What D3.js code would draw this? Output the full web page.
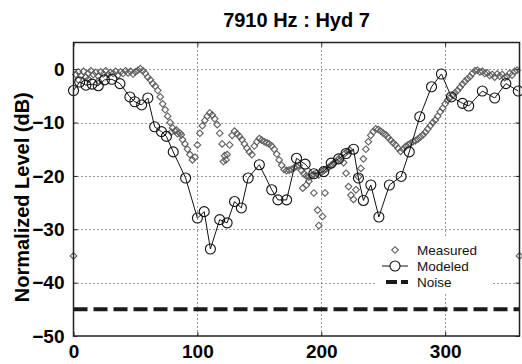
<!DOCTYPE html>
<html><head><meta charset="utf-8">
<script src="https://cdn.jsdelivr.net/npm/d3@7/dist/d3.min.js"></script>
<style>body{margin:0;background:#fff}svg{display:block}</style>
</head><body>
<svg id="c" width="522" height="364"></svg>
<script>
const title = "7910 Hz : Hyd 7";
const yLabel = "Normalized Level (dB)";
const xTicks = [0, 100, 200, 300];
const yTicks = [-50, -40, -30, -20, -10, 0];
const legendLabels = ["Measured", "Modeled", "Noise"];
const noiseLevel = -45;

// Measured [angle deg, level dB]
const measured = [[0,-35],[2,-1.0],[4,-0.5],[6,-1.2],[8,-0.4],[10,-1.5],[12,-0.8],[14,-0.3],[16,-1.0],[18,-0.6],[20,-1.3],[22,-0.5],[24,-0.9],[26,-0.3],[28,-1.0],[30,-0.6],[32,-0.8],[34,-0.4],[36,-1.1],[38,-0.5],[40,-0.8],[42,-0.3],[44,-0.7],[46,-0.4],[48,-0.9],[50,-0.5],[52,-0.2],[54,0.1],[56,-0.3],[58,-0.8],[60,-1.5],[62,-2.0],[64,-2.7],[66,-3.2],[68,-4.0],[70,-5.2],[72,-6.5],[74,-7.6],[76,-8.8],[78,-10.0],[80,-11.0],[82,-11.6],[84,-12.1],[86,-12.0],[88,-13.2],[90,-14.0],[92,-15.0],[94,-16.0],[96,-17.0],[98,-16.5],[100,-14.2],[102,-12.0],[104,-10.6],[106,-9.6],[108,-8.8],[110,-8.2],[112,-8.6],[114,-9.3],[116,-10.4],[118,-12.0],[120,-14.0],[122,-16.2],[124,-16.0],[126,-14.2],[128,-12.4],[130,-11.6],[132,-12.1],[134,-12.6],[136,-13.2],[138,-14.0],[140,-14.8],[142,-15.5],[144,-16.0],[146,-14.4],[148,-13.6],[150,-13.0],[152,-13.3],[154,-13.6],[156,-13.8],[158,-14.0],[160,-14.4],[162,-15.0],[164,-15.9],[166,-17.0],[168,-18.0],[170,-18.8],[172,-19.0],[174,-18.9],[176,-18.8],[178,-18.5],[180,-18.2],[182,-18.0],[184,-19.0],[186,-19.6],[188,-20.0],[190,-20.2],[192,-20.0],[194,-19.7],[196,-19.5],[198,-19.8],[200,-19.3],[202,-19.0],[204,-18.7],[206,-18.4],[208,-18.0],[210,-17.6],[212,-17.3],[214,-16.8],[216,-16.4],[218,-17.5],[220,-19.5],[222,-22.0],[224,-23.6],[226,-24.4],[228,-22.6],[230,-20.2],[232,-18.6],[234,-16.8],[236,-15.0],[238,-13.6],[240,-12.4],[242,-11.7],[244,-11.2],[246,-11.3],[248,-11.6],[250,-12.0],[252,-12.3],[254,-12.8],[256,-13.3],[258,-13.8],[260,-14.2],[262,-14.8],[264,-15.4],[266,-15.0],[268,-14.5],[270,-14.2],[272,-13.9],[274,-13.6],[276,-13.4],[278,-13.1],[280,-12.7],[282,-12.3],[284,-11.8],[286,-11.2],[288,-10.6],[290,-10.0],[292,-9.5],[294,-8.8],[296,-8.0],[298,-7.3],[300,-6.5],[302,-5.8],[304,-5.3],[306,-4.9],[308,-4.4],[310,-4.0],[312,-3.4],[314,-2.8],[316,-2.3],[318,-1.8],[320,-1.4],[322,-0.8],[324,-0.3],[326,-0.2],[328,-0.5],[330,-0.4],[332,-0.8],[334,-0.7],[336,-1.2],[338,-1.0],[340,-1.5],[342,-0.9],[344,-1.3],[346,-1.0],[348,-1.6],[350,-1.4],[352,-0.8],[354,-1.1],[356,-0.4],[358,-0.2],[360,-35]];
// Extra scattered measured samples
const measuredScatter = [[4,-2.0],[12,-1.9],[20,-2.2],[79,-11.8],[83,-11.4],[87,-12.3],[121,-17.3],[123,-17.0],[185,-22.3],[188,-21.7],[190,-21.0],[194,-23.2],[197,-26.4],[198,-29.3],[201,-27.6],[203,-23.2],[219,-15.8],[221,-15.4],[223,-15.2]];

// Modeled [angle deg, level dB]
const modeled = [[0,-4.0],[5,-2.4],[10,-3.0],[15,-2.8],[20,-3.1],[25,-2.0],[31,-1.9],[37.5,-2.7],[45.5,-5.2],[49.5,-6.1],[55,-6.7],[60,-5.4],[65.5,-10.8],[71,-11.7],[75,-12.6],[80.5,-15.5],[90.5,-20.4],[100,-27.9],[105.5,-26.7],[110.5,-33.7],[118,-28.2],[124,-28.8],[130,-24.8],[135.5,-26.0],[141,-20.4],[150,-17.9],[160,-22.6],[165,-24.5],[172,-24.5],[180,-16.7],[187,-17.8],[194,-19.6],[202,-19.2],[208,-17.6],[214,-16.8],[220,-15.8],[226,-15.0],[230,-20.4],[234,-24.6],[240,-21.7],[246.5,-27.7],[255,-21.7],[264.5,-20.1],[271,-15.5],[279.5,-8.9],[289,-3.3],[297,-0.9],[305,-5.2],[314,-6.4],[319,-6.9],[330,-4.1],[340,-5.4],[349,-2.7],[359,-4.1]];

const svg = d3.select("#c");
const L = 73.5, R = 519.5, T = 42.5, B = 336;
const x = d3.scaleLinear().domain([0, 360]).range([L, R]);
const y = d3.scaleLinear().domain([-50, 5]).range([B, T]);
const font = "Arial, 'Liberation Sans', sans-serif";

// grid
const grid = svg.append("g").attr("stroke", "#333").attr("stroke-width", 1).attr("stroke-dasharray", "1,3");
grid.selectAll("line.v").data(xTicks.filter(d => d > 0)).join("line")
  .attr("x1", d => Math.round(x(d)) + 0.5).attr("x2", d => Math.round(x(d)) + 0.5).attr("y1", T).attr("y2", B);
grid.selectAll("line.h").data(yTicks.filter(d => d > -50)).join("line")
  .attr("y1", d => Math.round(y(d)) + 0.5).attr("y2", d => Math.round(y(d)) + 0.5).attr("x1", L).attr("x2", R);

// noise line
svg.append("line").attr("x1", L).attr("x2", R).attr("y1", y(noiseLevel)).attr("y2", y(noiseLevel))
  .attr("stroke", "#1a1a1a").attr("stroke-width", 4).attr("stroke-dasharray", "14,6");

// measured diamonds
const diamond = d3.symbol().type(d3.symbolDiamond2).size(28);
const plotG = svg.append("g");
plotG.selectAll("path.m").data(measured.concat(measuredScatter)).join("path")
  .attr("d", diamond).attr("transform", d => `translate(${x(d[0])},${y(d[1])})`)
  .attr("fill", "none").attr("stroke", "#5e5e5e").attr("stroke-width", 1.1);

// modeled line + circles
plotG.append("path").datum(modeled)
  .attr("d", d3.line().x(d => x(d[0])).y(d => y(d[1])))
  .attr("fill", "none").attr("stroke", "#111").attr("stroke-width", 1);
plotG.selectAll("circle.mod").data(modeled).join("circle")
  .attr("cx", d => x(d[0])).attr("cy", d => y(d[1])).attr("r", 5)
  .attr("fill", "none").attr("stroke", "#111").attr("stroke-width", 1.1);

// frame
svg.append("rect").attr("x", L).attr("y", T).attr("width", R - L).attr("height", B - T)
  .attr("fill", "none").attr("stroke", "#222").attr("stroke-width", 1.5);

// axes (ticks inside)
const xAxis = svg.append("g").attr("transform", `translate(0,${B})`)
  .call(d3.axisBottom(x).tickValues(xTicks).tickSize(-4).tickPadding(9));
const yAxis = svg.append("g").attr("transform", `translate(${L},0)`)
  .call(d3.axisLeft(y).tickValues(yTicks).tickSize(-4).tickPadding(9));
svg.append("g").attr("transform", `translate(0,${T})`)
  .call(d3.axisTop(x).tickValues(xTicks).tickSize(-4).tickFormat(""));
svg.append("g").attr("transform", `translate(${R},0)`)
  .call(d3.axisRight(y).tickValues(yTicks).tickSize(-4).tickFormat(""));
svg.selectAll(".domain").remove();
svg.selectAll(".tick line").attr("stroke", "#222");
[xAxis, yAxis].forEach(a => a.selectAll("text")
  .attr("font-family", font).attr("font-weight", "bold").attr("font-size", 19).attr("fill", "#000"));
xAxis.selectAll("text").attr("dy", "0.71em");

// title
svg.append("text").attr("x", (L + R) / 2).attr("y", 27).attr("text-anchor", "middle")
  .attr("font-family", font).attr("font-weight", "bold").attr("font-size", 20).text(title);

// y label
svg.append("text").attr("transform", `translate(29,${(T + B) / 2 + 8}) rotate(-90)`).attr("text-anchor", "middle")
  .attr("font-family", font).attr("font-weight", "bold").attr("font-size", 20).text(yLabel);

// legend
const lg = svg.append("g");
lg.append("rect").attr("x", 376).attr("y", 238).attr("width", 116).attr("height", 56).attr("fill", "#fff");
const ly = [250, 266, 282];
lg.append("path").attr("d", diamond).attr("transform", `translate(395,${ly[0]})`)
  .attr("fill", "none").attr("stroke", "#5e5e5e").attr("stroke-width", 1.1);
lg.append("line").attr("x1", 382).attr("x2", 408).attr("y1", ly[1]).attr("y2", ly[1]).attr("stroke", "#111");
lg.append("circle").attr("cx", 395).attr("cy", ly[1]).attr("r", 5).attr("fill", "#fff").attr("stroke", "#111").attr("stroke-width", 1.1);
lg.append("line").attr("x1", 386).attr("x2", 408).attr("y1", ly[2]).attr("y2", ly[2])
  .attr("stroke", "#1a1a1a").attr("stroke-width", 4).attr("stroke-dasharray", "11,4");
lg.selectAll("text").data(legendLabels).join("text")
  .attr("x", 417).attr("y", (d, i) => ly[i]).attr("dy", "0.35em")
  .attr("font-family", font).attr("font-size", 13.5).attr("fill", "#111").text(d => d);
</script>
</body></html>
